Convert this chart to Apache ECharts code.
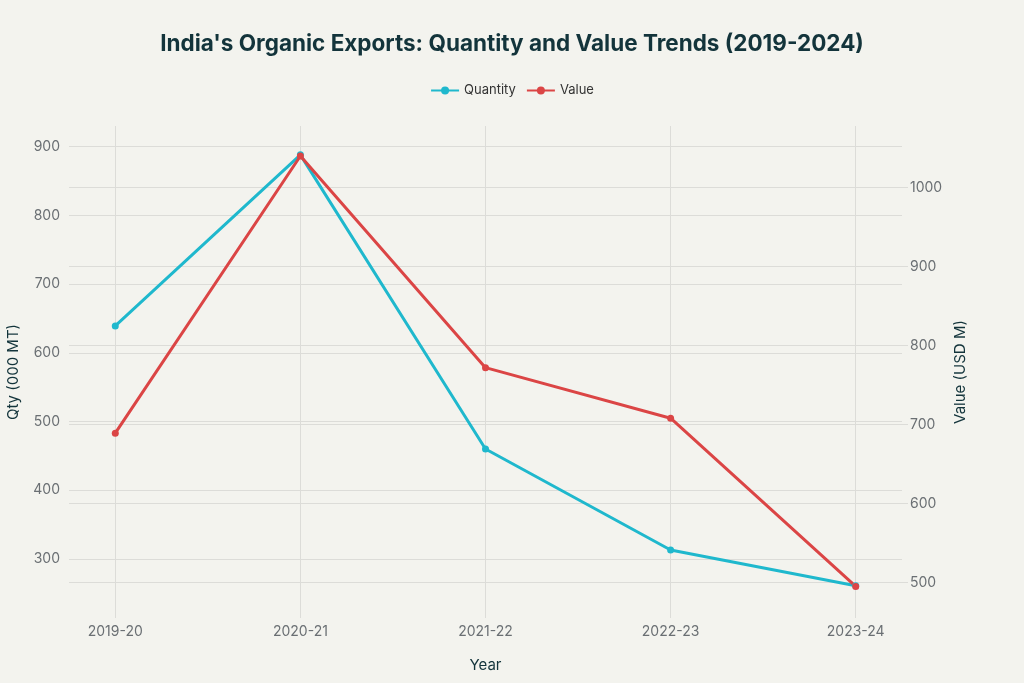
<!DOCTYPE html>
<html>
<head>
<meta charset="utf-8">
<title>India's Organic Exports</title>
<script src="https://cdn.jsdelivr.net/npm/echarts@6/dist/echarts.min.js"></script>
<style>
  html, body { margin: 0; padding: 0; background: #f3f3ee; }
  #chart { width: 1024px; height: 683px; }
</style>
</head>
<body>
<div id="chart"></div>
<script>
// data
var years = ['2019-20', '2020-21', '2021-22', '2022-23', '2023-24'];
var quantity = [639, 888, 460, 313, 261];   // 000 MT
var value = [689, 1040, 772, 708, 495];     // USD M
var qtyTicks = [300, 400, 500, 600, 700, 800, 900];
var valTicks = [500, 600, 700, 800, 900, 1000];
var yearTicks = [0, 1, 2, 3, 4];

var font = 'Inter, "Open Sans", sans-serif';
var gridColor = '#dcdcd8';
var labelColor = '#6a6f73';
var darkText = '#13343b';

function pairs(arr) {
    var res = [];
    for (var i = 0; i < arr.length; i++) {
        res.push([i, arr[i]]);
    }
    return res;
}

var chart = echarts.init(document.getElementById('chart'));
var option = {
    backgroundColor: '#f3f3ee',
    textStyle: { fontFamily: font },
    title: {
        text: "India's Organic Exports: Quantity and Value Trends (2019-2024)",
        left: 'center',
        top: 28,
        textStyle: { fontFamily: font, fontSize: 22.5, fontWeight: 'bold', color: darkText }
    },
    legend: {
        top: 79,
        left: 'center',
        itemWidth: 28,
        itemHeight: 10,
        itemGap: 10,
        textStyle: { fontFamily: font, fontSize: 13, color: '#333' },
        data: ['Quantity', 'Value']
    },
    grid: { left: 69, right: 122, top: 126, bottom: 65, outerBoundsMode: 'none', containLabel: false },
    xAxis: {
        type: 'value',
        min: -0.25,
        max: 4.25,
        name: 'Year',
        nameLocation: 'middle',
        nameGap: 40,
        nameMoveOverlap: false,
        nameTextStyle: { fontFamily: font, fontSize: 15, color: darkText },
        axisLine: { show: false },
        axisTick: { show: false, customValues: yearTicks },
        axisLabel: {
            customValues: yearTicks,
            margin: 7,
            fontSize: 14,
            color: labelColor,
            formatter: function (v) { return years[Math.round(v)]; }
        },
        splitLine: { show: true, lineStyle: { color: gridColor, width: 1 } }
    },
    yAxis: [
        {
            type: 'value',
            min: 214,
            max: 930,
            name: 'Qty (000 MT)',
            nameLocation: 'middle',
            nameGap: 48,
            nameMoveOverlap: false,
            nameTextStyle: { fontFamily: font, fontSize: 15, color: darkText },
            axisLine: { show: false },
            axisTick: { show: true, length: 6, customValues: qtyTicks, lineStyle: { color: gridColor } },
            axisLabel: { customValues: qtyTicks, margin: 9, fontSize: 14, color: labelColor,
                formatter: function (v) { return String(v); } },
            splitLine: { show: true, lineStyle: { color: gridColor, width: 1 } }
        },
        {
            type: 'value',
            min: 455,
            max: 1078,
            name: 'Value (USD M)',
            nameLocation: 'middle',
            nameGap: 51,
            nameMoveOverlap: false,
            nameTextStyle: { fontFamily: font, fontSize: 15, color: darkText },
            axisLine: { show: false },
            axisTick: { show: true, length: 6, customValues: valTicks, lineStyle: { color: gridColor } },
            axisLabel: { customValues: valTicks, margin: 8, fontSize: 14, color: labelColor,
                formatter: function (v) { return String(v); } },
            splitLine: { show: true, lineStyle: { color: gridColor, width: 1 } }
        }
    ],
    series: [
        {
            name: 'Quantity',
            type: 'line',
            yAxisIndex: 0,
            data: pairs(quantity),
            symbol: 'circle',
            symbolSize: 7,
            lineStyle: { width: 3, color: '#1fb8cd' },
            itemStyle: { color: '#1fb8cd' }
        },
        {
            name: 'Value',
            type: 'line',
            yAxisIndex: 1,
            data: pairs(value),
            symbol: 'circle',
            symbolSize: 7,
            lineStyle: { width: 3, color: '#db4545' },
            itemStyle: { color: '#db4545' }
        }
    ]
};
chart.setOption(option);
</script>
</body>
</html>
